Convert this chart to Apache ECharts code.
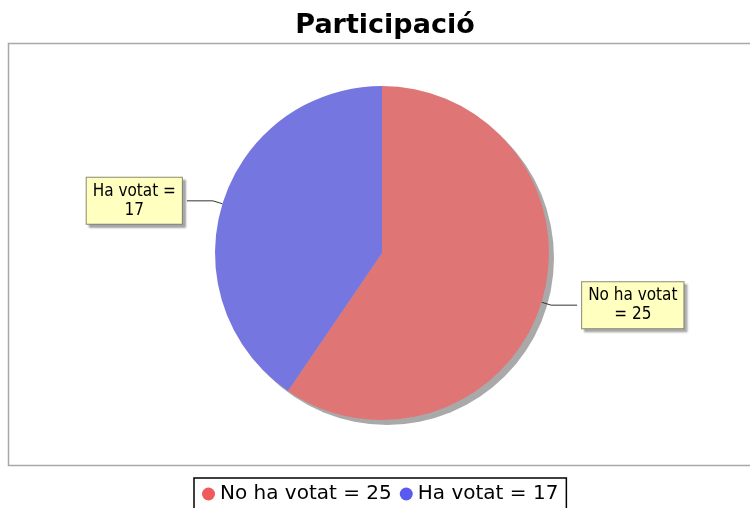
<!DOCTYPE html>
<html>
<head>
<meta charset="utf-8">
<script src="https://cdn.jsdelivr.net/npm/echarts@6/dist/echarts.min.js"></script>
<style>html,body{margin:0;padding:0;background:#fff}#c{width:750px;height:508px}</style>
</head>
<body>
<div id="c"></div>
<script>
const titleText = 'Participació';
const categories = ['No ha votat', 'Ha votat'];
const values = [25, 17];
const colors = ['#e07576', '#7676e0'];
const legendColors = ['#f05a5a', '#5a5af0'];

const chart = echarts.init(document.getElementById('c'));
const data = categories.map((c, i) => ({
  name: c + ' = ' + values[i],
  value: values[i],
  itemStyle: { color: colors[i] },
  label: { formatter: i === 0 ? '{t|' + c + '}\n{t|= ' + values[i] + '}' : '{t|' + c + ' =}\n{t|' + values[i] + '}' }
}));
const total = values.reduce((a, b) => a + b, 0);

chart.setOption({
  animation: false,
  backgroundColor: '#fff',
  title: {
    text: titleText, left: 380, top: 7, textAlign: 'center',
    textStyle: { fontFamily: 'DejaVu Sans', fontWeight: 'bold', fontSize: 27, color: '#000' }
  },
  graphic: [{
    type: 'rect', z: -1,
    shape: { x: 8.5, y: 43.5, width: 760, height: 422 },
    style: { fill: '#fff', stroke: '#a8a8a8', lineWidth: 1.5 }
  }],
  legend: {
    bottom: -6, left: 194,
    icon: 'circle', itemWidth: 13, itemHeight: 13, itemGap: 8,
    borderColor: '#000', borderWidth: 1.5, padding: [6, 8, 10, 8],
    textStyle: { fontFamily: 'DejaVu Sans', fontSize: 20, color: '#000' },
    data: data.map((d, i) => ({ name: d.name, itemStyle: { color: legendColors[i] } }))
  },
  series: [{
    type: 'pie', silent: true, z: 1,
    center: [387, 258], radius: 167,
    data: [{ value: total, name: '_shadow', itemStyle: { color: '#a9a9a9' } }],
    label: { show: false }, labelLine: { show: false },
    emphasis: { disabled: true }, legendHoverLink: false
  }, {
    type: 'pie', z: 2,
    center: [382, 253], radius: 167,
    startAngle: 90, clockwise: true,
    data: data,
    label: {
      position: 'outside',
      backgroundColor: '#ffffc0', borderColor: '#8a8a70', borderWidth: 1,
      padding: [4, 6, 4, 6],
      shadowColor: 'rgba(120,120,120,0.6)', shadowOffsetX: 3, shadowOffsetY: 3, shadowBlur: 2,
      rich: {
        t: { fontFamily: 'DejaVu Sans Condensed', fontSize: 17, color: '#000', align: 'center', lineHeight: 19 }
      }
    },
    labelLine: { show: true, length: 10, length2: 26, lineStyle: { color: '#333', width: 1 } },
    emphasis: { disabled: true }
  }]
});
</script>
</body>
</html>
